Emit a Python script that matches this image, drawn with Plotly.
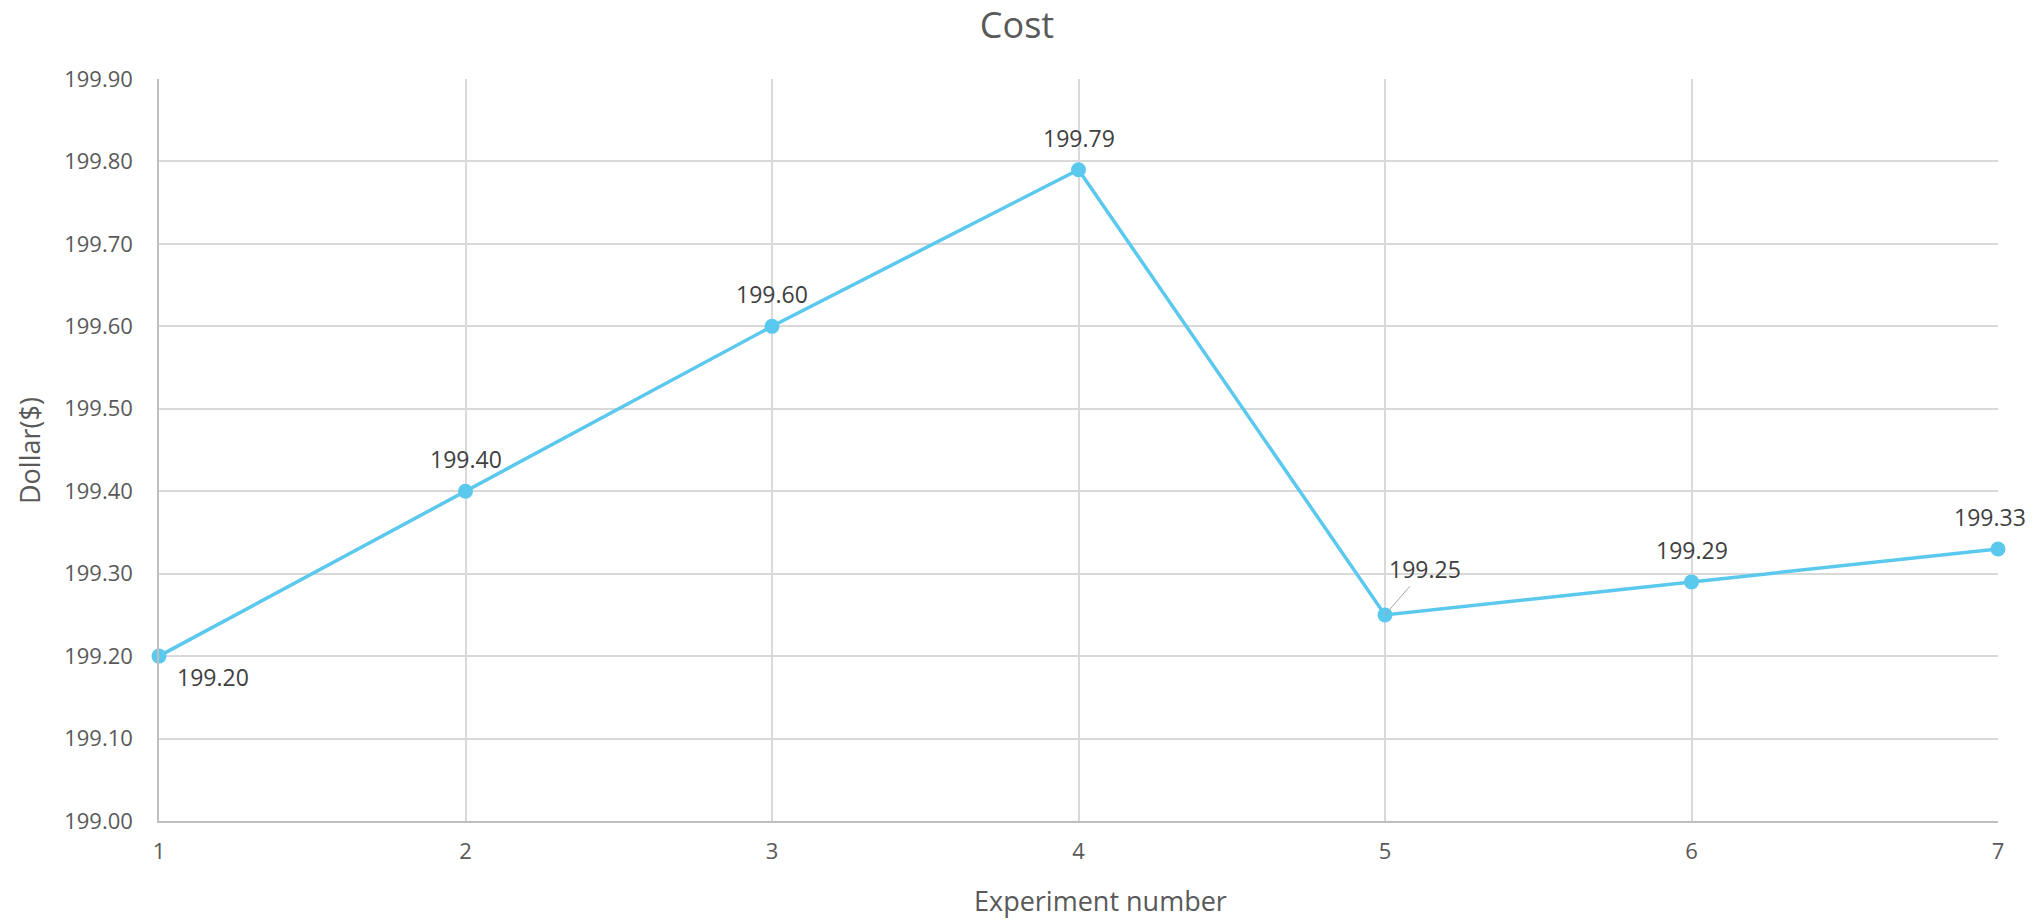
import plotly.graph_objects as go

# Experiment results
experiments = [1, 2, 3, 4, 5, 6, 7]
cost = [199.20, 199.40, 199.60, 199.79, 199.25, 199.29, 199.33]
y_ticks = [199.00, 199.10, 199.20, 199.30, 199.40, 199.50, 199.60, 199.70, 199.80, 199.90]

FONT = "Open Sans"
LINE_COLOR = "#5BC8EE"
TICK_COLOR = "#595959"
LABEL_COLOR = "#404040"

fig = go.Figure()
fig.add_trace(go.Scatter(
    x=experiments, y=cost, mode="lines+markers",
    line=dict(color=LINE_COLOR, width=3.5),
    marker=dict(color=LINE_COLOR, size=15),
    hoverinfo="x+y", showlegend=False, cliponaxis=False,
))

# Data labels: offset (px) for each point
offsets = [(54, -21), (0, 32), (0, 32), (0, 32), None, (0, 32), (-8, 32)]
annotations = []
for x, y, off in zip(experiments, cost, offsets):
    if off is None:
        # label pulled away from the point with a leader line
        annotations.append(dict(
            x=x, y=y, xref="x", yref="y", text=f"{y:.2f}",
            showarrow=True, arrowhead=0, arrowwidth=1, arrowcolor="#A6A6A6",
            ax=40, ay=-46, standoff=0,
            font=dict(family=FONT, size=23, color=LABEL_COLOR),
        ))
    else:
        annotations.append(dict(
            x=x, y=y, xref="x", yref="y", text=f"{y:.2f}",
            showarrow=False, xshift=off[0], yshift=off[1],
            font=dict(family=FONT, size=23, color=LABEL_COLOR),
        ))

# Axis titles
annotations.append(dict(
    text="Experiment number", xref="paper", yref="paper",
    x=0.5117, y=-0.1065, showarrow=False, xanchor="center", yanchor="middle",
    font=dict(family=FONT, size=27, color=TICK_COLOR),
))
annotations.append(dict(
    text="Dollar($)", xref="paper", yref="paper", textangle=-90,
    x=-0.0707, y=0.5, showarrow=False, xanchor="center", yanchor="middle",
    font=dict(family=FONT, size=27, color=TICK_COLOR),
))

fig.update_layout(
    width=2034, height=920,
    margin=dict(l=159, r=36, t=79, b=99),
    paper_bgcolor="white", plot_bgcolor="white",
    title=dict(text="Cost", x=0.5, xref="container", xanchor="center",
               y=1 - 25 / 920, yref="container", yanchor="middle",
               font=dict(family=FONT, size=36, color=TICK_COLOR)),
    annotations=annotations,
    xaxis=dict(
        range=[1, 7], tickmode="array", tickvals=experiments,
        ticktext=[str(e) for e in experiments],
        showgrid=True, gridcolor="#D9D9D9", gridwidth=1.5,
        showline=True, linecolor="#BFBFBF", linewidth=1.5,
        ticks="outside", ticklen=0, ticklabelstandoff=10,
        tickfont=dict(family=FONT, size=22, color=TICK_COLOR),
        zeroline=False, fixedrange=True,
    ),
    yaxis=dict(
        range=[199.0, 199.9], tickmode="array", tickvals=y_ticks,
        ticktext=[f"{v:.2f}" for v in y_ticks],
        showgrid=True, gridcolor="#D9D9D9", gridwidth=1.5,
        showline=True, linecolor="#BFBFBF", linewidth=1.5,
        ticks="", ticklabelstandoff=20,
        tickfont=dict(family=FONT, size=22, color=TICK_COLOR),
        zeroline=False, fixedrange=True,
    ),
)

fig.write_html("out.html")
